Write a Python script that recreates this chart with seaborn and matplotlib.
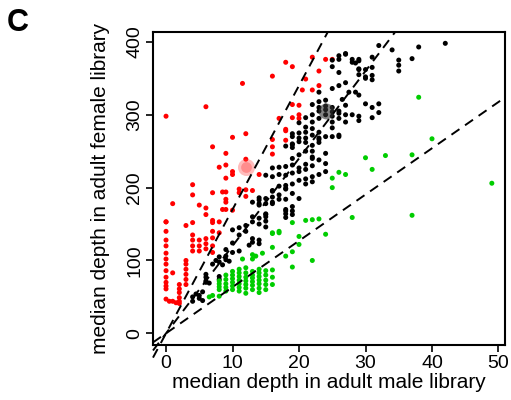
import matplotlib
matplotlib.use("Agg")
import matplotlib.pyplot as plt
import seaborn as sns
import pandas as pd

# points above the steep line
red_x = [0, 6, 11.5, 16, 18, 19, 22, 24, 25, 23, 21, 20.5, 22, 23, 19, 20, 19, 20, 20, 17, 18,
         16, 16, 16, 18, 18, 14,
         10, 12, 7, 9, 8, 9, 12, 10, 10, 9, 4, 4, 1, 5, 6, 6, 7, 8.5, 9, 9, 9, 8.5, 9, 10,
         7, 7, 8, 4, 3, 0, 11, 11, 12, 12, 13,
         0, 0, 0, 0, 0, 0, 0, 0, 0, 0, 0, 0, 0, 1, 1, 0.5, 1.5,
         2, 2, 2, 2, 2, 2, 3, 3, 3, 3, 3, 3, 4, 4, 4, 4, 5, 5, 5, 6, 6, 6, 7, 7, 7, 7, 8]
red_y = [298, 311, 343, 353, 372, 366, 379, 376, 376, 360, 349, 334, 334, 340, 314, 313, 296, 300, 295, 295, 280,
         266, 256, 246, 278, 265, 218,
         269, 274, 256, 247, 228, 231, 239, 222, 218, 213, 204, 190, 178, 176, 172, 163, 193, 194, 194, 184, 180, 170, 170, 169,
         155, 152, 153, 152, 148, 153, 198, 193, 197, 188, 196,
         153, 140, 128, 120, 110, 102, 95, 86, 77, 70, 65, 61, 47, 83, 44, 44, 42,
         67, 61, 56, 49, 44, 41, 100, 95, 88, 81, 74, 67, 135, 128, 120, 113, 128, 120, 113, 130, 123, 116, 140, 131, 120, 111, 138]

# points between the lines
black_x = [4, 4.5, 5, 4, 5, 5.5, 5.5, 6, 6, 6.5, 6, 6,
           7, 7.5, 8, 8, 8.5, 9, 9, 9.5, 9, 8, 8, 10, 10, 11, 11, 12,
           12.5, 13, 14, 13, 14, 10, 11, 12, 13, 14, 15, 15, 13, 14, 15, 14,
           13, 14, 14, 15, 15, 16, 16, 17, 18, 18, 19, 20, 19, 19, 19, 17, 18,
           16, 17, 18, 19, 20, 15, 16, 17, 18, 19, 20, 16, 18, 18, 18, 18, 15, 15, 14, 16,
           19, 19, 22, 23, 24, 24, 26, 19, 20, 21, 21, 22, 22, 22, 22, 24,
           16, 17, 18, 19, 20, 21, 21, 22, 23, 20, 21, 22,
           19, 19, 20, 21, 22, 23, 23, 23, 18, 19, 20, 21, 21, 22, 23, 24, 25, 25, 26,
           20, 21, 22, 22, 23, 23, 23, 24, 24, 24, 25, 25, 25, 23, 22, 21, 24, 26, 26, 27, 25,
           28, 29, 29, 31, 32, 31, 32, 26, 27, 27,
           25, 26, 26, 27, 28, 28.5, 29, 29, 23, 25, 26, 27, 29, 30, 26.5, 27.5, 28.5, 29, 30,
           32, 34, 31, 31, 30, 31, 35, 35, 35, 37, 38, 42, 25, 28, 29, 29, 30, 31, 26, 27]
black_y = [50, 54, 48, 44, 52, 57, 45, 70, 72, 69, 77, 81,
           95, 100, 98, 105, 94, 101, 106, 99, 115, 78, 74, 111, 124, 113, 135, 140,
           121, 125, 123, 130, 128, 142, 145, 148, 153, 150, 146, 154, 160, 158, 163, 176,
           180, 183, 186, 178, 185, 187, 195, 190, 199, 203, 192, 210, 163, 168, 174, 184, 184,
           215, 218, 217, 220, 222, 217, 227, 228, 229, 231, 227, 178, 159, 164, 168, 170, 160, 164, 178, 180,
           255, 259, 230, 238, 247, 233, 270, 240, 245, 205, 212, 208, 215, 242, 250, 222,
           196, 202, 198, 205, 185, 232, 225, 240, 218, 268, 262, 258,
           270, 274, 275, 268, 272, 266, 268, 262, 257, 260, 263, 250, 276, 281, 276, 270, 270, 282, 272,
           289, 283, 290, 300, 295, 305, 310, 300, 307, 312, 298, 304, 310, 318, 314, 296, 320, 295, 302, 300, 290,
           300, 292, 298, 296, 303, 310, 315, 305, 290, 313,
           366, 376, 381, 383, 376, 371, 374, 362, 331, 336, 340, 344, 355, 362, 321, 331, 331, 327, 315,
           395, 389, 379, 365, 350, 348, 375, 368, 360, 377, 393, 398, 375, 372, 363, 376, 352, 354, 358, 384]

# points below the middle line
green_x = [8, 8, 8, 8, 9, 9, 9, 9, 9, 10, 10, 10, 10, 10, 10, 11, 11, 11, 11, 11, 11, 11,
           12, 12, 12, 12, 12, 12, 12, 13, 13, 13, 13, 13, 13, 14, 14, 14, 14, 14, 14,
           15, 15, 15, 15, 15, 6.5, 7, 8, 16, 16, 16, 14, 13, 13.5, 14.5, 11.5, 13,
           16, 17, 17, 19, 20, 20, 18, 19, 19, 21, 22, 23, 28, 25, 26, 27, 25, 22, 24, 16, 16,
           30, 33, 37, 31, 38, 40, 49, 37]
green_y = [60, 64, 68, 72, 58, 63, 68, 74, 80, 60, 65, 70, 75, 80, 85, 58, 63, 68, 73, 78, 83, 88,
           55, 62, 67, 72, 77, 83, 90, 60, 66, 71, 76, 80, 85, 62, 68, 73, 78, 83, 88,
           60, 67, 73, 80, 86, 50, 52, 51, 67, 77, 87, 56, 102, 106, 110, 102, 108,
           118, 140, 138, 112, 122, 133, 106, 91, 152, 155, 156, 157, 159, 213, 221, 218, 200, 100, 136, 138, 137,
           241, 244, 245, 225, 324, 267, 206, 162]

# dashed ratio lines (female = slope * male)
line_slopes = [17.0, 12.0, 6.35]

df = pd.DataFrame({
    "male": red_x + black_x + green_x,
    "female": red_y + black_y + green_y,
    "group": ["above"] * len(red_x) + ["between"] * len(black_x) + ["below"] * len(green_x),
})

sns.set_style("white")
plt.rcParams["font.family"] = ["Liberation Sans", "DejaVu Sans"]
plt.rcParams["text.color"] = "black"
plt.rcParams["axes.labelcolor"] = "black"
plt.rcParams["xtick.color"] = "black"
plt.rcParams["ytick.color"] = "black"

fig = plt.figure(figsize=(5.11, 4.0), dpi=100)
ax = fig.add_axes([0.2994, 0.1375, 0.6886, 0.7833])

sns.scatterplot(data=df, x="male", y="female", hue="group",
                hue_order=["above", "between", "below"],
                palette={"above": "#ff0000", "between": "#000000", "below": "#00cd00"},
                s=13, linewidth=0, legend=False, ax=ax)

# highlighted spots
ax.scatter([12], [228], s=150, color="#ff4040", alpha=0.35, linewidth=0)
ax.scatter([12], [228], s=60, color="#ff6060", alpha=0.5, linewidth=0)
ax.scatter([24], [305], s=130, color="#333333", alpha=0.6, linewidth=0)

xlim = (-1.96, 50.96)
ylim = (-16, 414)
for k in line_slopes:
    x_end = min(xlim[1], ylim[1] / k)
    ax.plot([xlim[0], x_end], [k * xlim[0], k * x_end], color="black",
            linestyle=(0, (5, 3.5)), linewidth=1.4, clip_on=False)

ax.set_xlim(*xlim)
ax.set_ylim(*ylim)
ax.set_xticks([0, 10, 20, 30, 40, 50])
ax.set_yticks([0, 100, 200, 300, 400])
ax.tick_params(direction="out", length=5, width=1.2, labelsize=14, pad=2,
               bottom=True, left=True, colors="black")
for lab in ax.get_yticklabels():
    lab.set_rotation(90)
    lab.set_va("center")
for sp in ax.spines.values():
    sp.set_linewidth(1.5)
    sp.set_color("black")

ax.set_xlabel("median depth in adult male library", fontsize=15, labelpad=1)
ax.set_ylabel("median depth in adult female library", fontsize=15, labelpad=12)
fig.text(0.034, 0.943, "C", fontsize=22, fontweight="bold", va="center", ha="center")

fig.savefig("out.png", dpi=100)
